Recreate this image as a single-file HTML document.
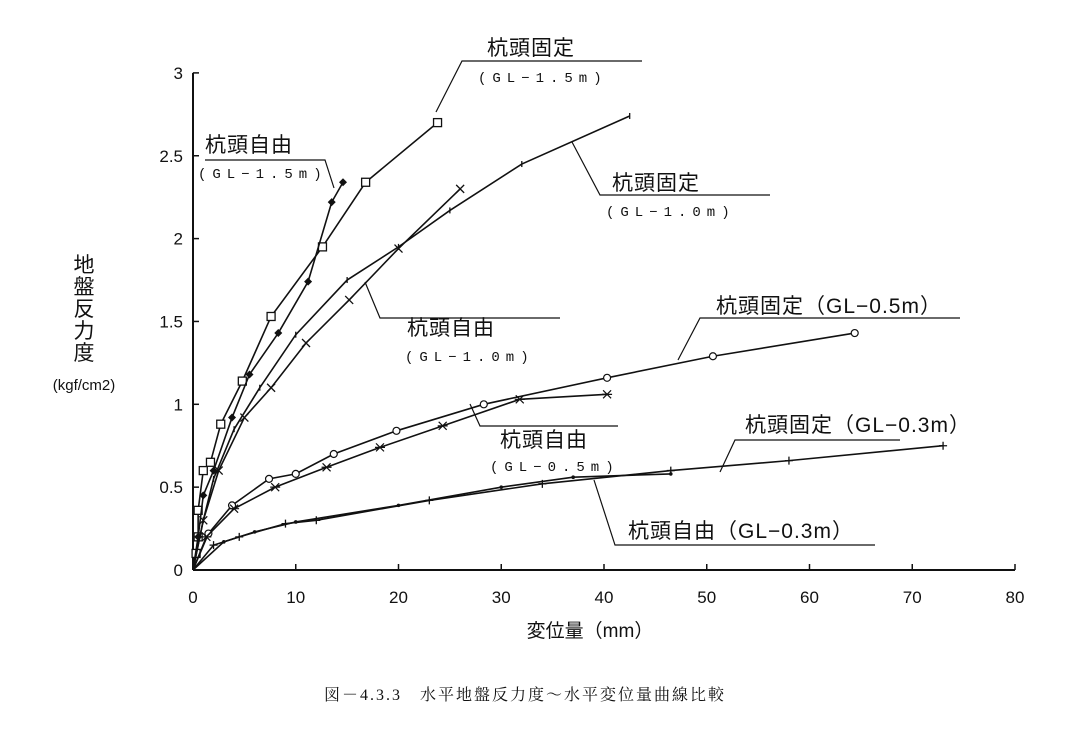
<!DOCTYPE html>
<html><head><meta charset="utf-8"><style>
body{margin:0;background:#fff;width:1066px;height:737px;overflow:hidden}
svg{display:block}
text{font-family:"Liberation Sans","Noto Sans CJK JP",sans-serif;fill:#111}
.lbl{font-size:21px;letter-spacing:1px}
.sub{font-size:14px;font-family:"Liberation Mono","Noto Sans CJK JP",monospace;letter-spacing:6px}
</style></head><body>
<svg id="c" width="1066" height="737">
<g id="axes"></g><g id="series"></g><g id="ann"></g>
<text x="525" y="700" text-anchor="middle" style="font-family:'Liberation Serif','Noto Serif CJK SC',serif;font-size:16px;letter-spacing:2px">図－4.3.3　水平地盤反力度～水平変位量曲線比較</text>
</svg>
<script>
const xTicks=[0,10,20,30,40,50,60,70,80];
const yTicks=[0,0.5,1,1.5,2,2.5,3];
const yTickLabels=["0","0.5","1","1.5","2","2.5","3"];
const fixed15x=[0,0.3,0.5,0.5,1,1.7,2.7,4.8,7.6,12.6,16.8,23.8];
const fixed15y=[0,0.1,0.2,0.36,0.6,0.65,0.88,1.14,1.53,1.95,2.34,2.7];
const free15x=[0,0.5,1,2,3.8,5.5,8.3,11.2,13.5,14.6];
const free15y=[0,0.2,0.45,0.6,0.92,1.18,1.43,1.74,2.22,2.34];
const fixed10x=[0,1,2,4,6.5,10,15,20,25,32,42.5];
const fixed10y=[0,0.3,0.55,0.85,1.1,1.42,1.75,1.95,2.17,2.45,2.74];
const free10x=[0,1,2.5,5,7.6,11,15.2,20,26];
const free10y=[0,0.3,0.6,0.92,1.1,1.37,1.63,1.94,2.3];
const fixed05x=[0,1.5,3.8,7.4,10,13.7,19.8,28.3,40.3,50.6,64.4];
const fixed05y=[0,0.22,0.39,0.55,0.58,0.7,0.84,1.0,1.16,1.29,1.43];
const free05x=[0,1.3,4,8,13,18.2,24.3,31.8,40.3];
const free05y=[0,0.2,0.37,0.5,0.62,0.74,0.87,1.03,1.06];
const fixed03x=[0,2,4.5,9,12,23,34,46.5,58,73];
const fixed03y=[0,0.15,0.2,0.28,0.3,0.42,0.52,0.6,0.66,0.75];
const free03x=[0,3,6,10,20,30,37,46.5];
const free03y=[0,0.17,0.23,0.29,0.39,0.5,0.56,0.58];

const X=v=>193+v*10.275, Y=v=>570-v*165.7;
const NS="http://www.w3.org/2000/svg";
function mk(tag,attrs,parent,txt){const e=document.createElementNS(NS,tag);for(const k in attrs)e.setAttribute(k,attrs[k]);if(txt!=null)e.textContent=txt;parent.appendChild(e);return e;}
const ax=document.getElementById('axes');
let a=mk('line',{x1:X(0),y1:Y(0),x2:X(80),y2:Y(0),stroke:'#111','stroke-width':2},ax);


a=mk('line',{x1:X(0),y1:Y(0),x2:X(0),y2:Y(3),stroke:'#111','stroke-width':2},ax);


xTicks.forEach(t=>{mk('line',{x1:X(t),y1:Y(0),x2:X(t),y2:Y(0)-6,stroke:'#111','stroke-width':1.5},ax);
 const e=mk('text',{x:X(t),y:603,'text-anchor':'middle','font-size':17},ax,String(t));
 
 });
yTicks.forEach((t,i)=>{mk('line',{x1:X(0),y1:Y(t),x2:X(0)+6,y2:Y(t),stroke:'#111','stroke-width':1.5},ax);
 const e=mk('text',{x:183,y:Y(t)+6,'text-anchor':'end','font-size':17},ax,yTickLabels[i]);
 
 });
let t=mk('text',{x:590,y:637,'text-anchor':'middle','font-size':19},ax,'変位量（mm）');


const yt=mk('g',{},ax);


['地','盤','反','力','度'].forEach((ch,i)=>mk('text',{x:84,y:272+i*22,'text-anchor':'middle','font-size':21},yt,ch));
mk('text',{x:84,y:390,'text-anchor':'middle','font-size':15},yt,'(kgf/cm2)');

const sg=document.getElementById('series');
function series(name,xs,ys,marker){
 const g=mk('g',{},sg);
 
 
 mk('polyline',{points:xs.map((x,i)=>X(x)+','+Y(ys[i])).join(' '),fill:'none',stroke:'#111','stroke-width':1.6},g);
 xs.forEach((x,i)=>{if(i==0)return;const cx=X(x),cy=Y(ys[i]);let m;
  if(marker=='sq')m=mk('rect',{x:cx-4,y:cy-4,width:8,height:8,fill:'#fff',stroke:'#111','stroke-width':1.3},g);
  else if(marker=='dia')m=mk('polygon',{points:`${cx},${cy-4} ${cx+4},${cy} ${cx},${cy+4} ${cx-4},${cy}`,fill:'#111'},g);
  else if(marker=='circ')m=mk('circle',{cx:cx,cy:cy,r:3.5,fill:'#fff',stroke:'#111','stroke-width':1.2},g);
  else if(marker=='x')m=mk('path',{d:`M${cx-4} ${cy-4}L${cx+4} ${cy+4}M${cx+4} ${cy-4}L${cx-4} ${cy+4}`,stroke:'#111','stroke-width':1.3},g);
  else if(marker=='ast')m=mk('path',{d:`M${cx-4} ${cy-4}L${cx+4} ${cy+4}M${cx+4} ${cy-4}L${cx-4} ${cy+4}M${cx-5} ${cy}L${cx+5} ${cy}`,stroke:'#111','stroke-width':1.2},g);
  else if(marker=='plus')m=mk('path',{d:`M${cx-4} ${cy}L${cx+4} ${cy}M${cx} ${cy-4}L${cx} ${cy+4}`,stroke:'#111','stroke-width':1.3},g);
  else if(marker=='tick')m=mk('path',{d:`M${cx} ${cy-3}L${cx} ${cy+3}`,stroke:'#111','stroke-width':1.3},g);
  else m=mk('circle',{cx:cx,cy:cy,r:1.8,fill:'#111'},g);
  
  });
}
series('series-fixed-gl-1.5',fixed15x,fixed15y,'sq');
series('series-free-gl-1.5',free15x,free15y,'dia');
series('series-fixed-gl-1.0',fixed10x,fixed10y,'tick');
series('series-free-gl-1.0',free10x,free10y,'x');
series('series-fixed-gl-0.5',fixed05x,fixed05y,'circ');
series('series-free-gl-0.5',free05x,free05y,'ast');
series('series-fixed-gl-0.3',fixed03x,fixed03y,'plus');
series('series-free-gl-0.3',free03x,free03y,'dot');

const an=document.getElementById('ann');
function label(name,main,sub,mx,my,sx,sy,line){
 const g=mk('g',{},an);
 
 
 mk('text',{x:mx,y:my,class:'lbl'},g,main);
 mk('text',{x:sx,y:sy,class:'sub'},g,sub);
 mk('polyline',{points:line,fill:'none',stroke:'#111','stroke-width':1.2},g);
}
label('label-fixed-gl-1.5','杭頭固定','(GL−1.5m)',487,55,478,82,'642,61 462,61 436,112');
label('label-free-gl-1.5','杭頭自由','(GL−1.5m)',205,152,198,178,'205,160 325,160 334,188');
label('label-fixed-gl-1.0','杭頭固定','(GL−1.0m)',612,190,606,216,'770,195 600,195 572,142');
label('label-free-gl-1.0','杭頭自由','(GL−1.0m)',407,335,405,361,'560,318 380,318 365,282');
label('label-fixed-gl-0.5','杭頭固定（GL−0.5m）','',716,313,0,0,'960,318 700,318 678,360');
label('label-free-gl-0.5','杭頭自由','(GL−0.5m)',500,447,490,471,'618,426 480,426 470,404');
label('label-fixed-gl-0.3','杭頭固定（GL−0.3m）','',745,432,0,0,'900,440 735,440 720,472');
label('label-free-gl-0.3','杭頭自由（GL−0.3m）','',628,538,0,0,'875,545 615,545 594,480');
</script>
</body></html>
